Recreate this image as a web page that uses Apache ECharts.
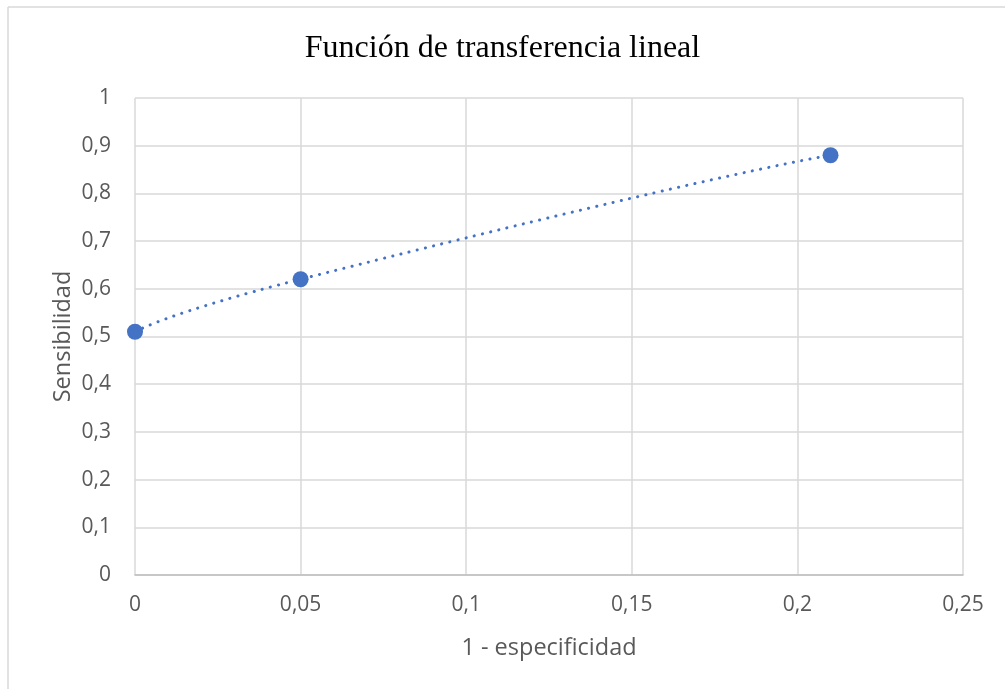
<!DOCTYPE html>
<html><head><meta charset="utf-8">
<script src="https://cdn.jsdelivr.net/npm/echarts@6/dist/echarts.min.js"></script>
<style>html,body{margin:0;padding:0;background:#fff}#c{width:1005px;height:689px}</style>
</head><body><div id="c"></div>
<script>
const xValues = [0, 0.05, 0.21];
const yValues = [0.51, 0.62, 0.88];
const titleText = 'Función de transferencia lineal';
const xName = '1 - especificidad';
const yName = 'Sensibilidad';

const pts = xValues.map((x, i) => [x, yValues[i]]);
const fmt = v => String(v).replace('.', ',');
const chart = echarts.init(document.getElementById('c'), null, {renderer: 'canvas'});
chart.setOption({
  animation: false,
  backgroundColor: '#fff',
  title: {text: titleText, left: 'center', top: 28,
    textStyle: {fontFamily: 'Liberation Serif', fontSize: 32, fontWeight: 'normal', color: '#000'}},
  graphic: [
    {type: 'line', shape: {x1: 8, y1: 7, x2: 1005, y2: 7}, style: {stroke: '#D9D9D9', lineWidth: 1.5}},
    {type: 'line', shape: {x1: 8, y1: 7, x2: 8, y2: 689}, style: {stroke: '#D9D9D9', lineWidth: 1.5}}
  ],
  grid: {left: 135, right: 42, top: 98, bottom: 114},
  xAxis: {type: 'value', min: 0, max: 0.25, interval: 0.05,
    name: xName, nameLocation: 'middle', nameGap: 61, nameMoveOverlap: false,
    nameTextStyle: {fontFamily: 'Open Sans', fontSize: 23.5, color: '#595959'},
    axisLine: {show: true, lineStyle: {color: '#BFBFBF', width: 1.5}},
    axisTick: {show: false},
    axisLabel: {formatter: fmt, margin: 20, fontFamily: 'Open Sans', fontSize: 21, color: '#595959'},
    splitLine: {show: true, lineStyle: {color: '#D9D9D9', width: 1.5}}},
  yAxis: {type: 'value', min: 0, max: 1, interval: 0.1,
    name: yName, nameLocation: 'middle', nameGap: 60, nameMoveOverlap: false,
    nameTextStyle: {fontFamily: 'Open Sans', fontSize: 23.5, color: '#595959'},
    axisLine: {show: false},
    axisTick: {show: false},
    axisLabel: {formatter: v => fmt(Math.round(v * 10) / 10), margin: 24, fontFamily: 'Open Sans', fontSize: 21, color: '#595959'},
    splitLine: {show: true, lineStyle: {color: '#D9D9D9', width: 1.5}}},
  series: [
    {type: 'line', data: pts, smooth: 0.8, symbol: 'none', z: 2,
      lineStyle: {color: '#4472C4', width: 3, type: [0.1, 8.3], cap: 'round'}},
    {type: 'scatter', data: pts, symbol: 'circle', symbolSize: 16, z: 3,
      itemStyle: {color: '#4472C4', opacity: 1}}
  ]
});
</script></body></html>
